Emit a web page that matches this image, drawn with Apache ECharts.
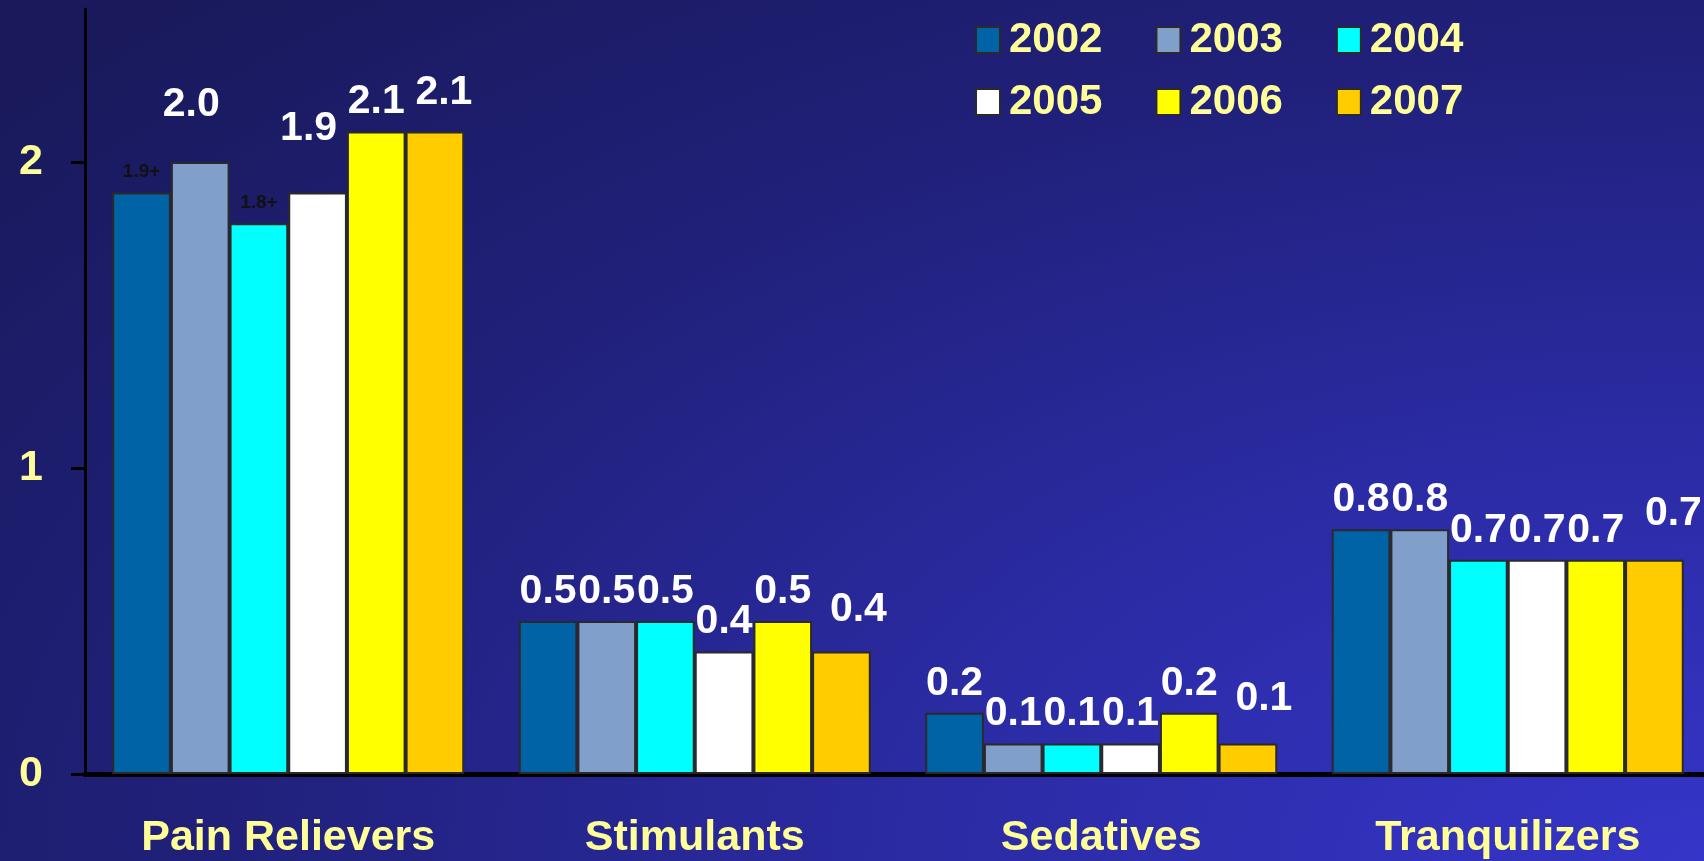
<!DOCTYPE html>
<html>
<head>
<meta charset="utf-8">
<script src="https://cdn.jsdelivr.net/npm/echarts@6/dist/echarts.min.js"></script>
<style>
  html, body { margin: 0; padding: 0; width: 1704px; height: 861px; overflow: hidden; }
  #chart {
    width: 1704px;
    height: 861px;
    background: radial-gradient(ellipse 130% 140% at 100% 100%, #3535c9 0%, #2b2ba4 35%, #20207a 68%, #19195b 100%);
  }
</style>
</head>
<body>
<div id="chart"></div>
<script>
// categories and years
const categories = ['Pain Relievers', 'Stimulants', 'Sedatives', 'Tranquilizers']
const years = ['2002', '2003', '2004', '2005', '2006', '2007']

// percent using in the past year, one array per year
const values2002 = [1.9, 0.5, 0.2, 0.8]
const values2003 = [2.0, 0.5, 0.1, 0.8]
const values2004 = [1.8, 0.5, 0.1, 0.7]
const values2005 = [1.9, 0.4, 0.1, 0.7]
const values2006 = [2.1, 0.5, 0.2, 0.7]
const values2007 = [2.1, 0.4, 0.1, 0.7]

const yTicks = [0, 1, 2]

// cells marked with "+" in the original
const plusMarked = [['Pain Relievers', '2002'], ['Pain Relievers', '2004']]

const seriesValues = [values2002, values2003, values2004, values2005, values2006, values2007]
const colors = ['#0063a6', '#809fcb', '#00ffff', '#ffffff', '#ffff00', '#ffcc00']

// label nudges, the source slide had hand placed labels
const labelNudge = {
  'Pain Relievers|2003': [-9, -28],
  'Pain Relievers|2005': [-9, -34],
  'Pain Relievers|2007': [9, -9],
  'Stimulants|2007': [17, -12],
  'Sedatives|2007': [16, -15],
  'Tranquilizers|2007': [19, -17]
}

const boldFont = '"Liberation Sans", Arial, sans-serif'

const isPlus = (cat, year) => plusMarked.some(p => p[0] === cat && p[1] === year)

const buildSeries = () => years.map((year, si) => ({
  name: year,
  type: 'bar',
  barGap: 0,
  barCategoryGap: '13.4%',
  itemStyle: { color: colors[si], borderColor: '#2a2a2a', borderWidth: 2 },
  label: {
    show: true,
    position: 'top',
    distance: 9,
    color: '#ffffff',
    fontFamily: boldFont,
    fontWeight: 'bold',
    fontSize: 41
  },
  data: seriesValues[si].map((v, ci) => {
    const cat = categories[ci]
    const item = { value: v }
    if (isPlus(cat, year)) {
      item.label = {
        formatter: v.toFixed(1) + '+',
        color: '#111111',
        fontSize: 19,
        distance: 11
      }
    } else {
      item.label = {
        formatter: v.toFixed(1),
        offset: labelNudge[cat + '|' + year] || [0, 0]
      }
    }
    return item
  })
}))

const legendStyle = {
  left: 970,
  icon: 'rect',
  itemWidth: 24,
  itemHeight: 26,
  itemGap: 53,
  textStyle: {
    color: '#ffff99',
    fontFamily: boldFont,
    fontWeight: 'bold',
    fontSize: 42,
    lineHeight: 44,
    padding: [0, 0, 0, 4]
  }
}

const chart = echarts.init(document.getElementById('chart'))
chart.setOption({
  backgroundColor: 'transparent',
  animation: false,
  legend: [
    Object.assign({}, legendStyle, { top: 13, data: years.slice(0, 3) }),
    Object.assign({}, legendStyle, { top: 75, data: years.slice(3) })
  ],
  grid: {
    left: 85,
    right: -7,
    top: 9,
    bottom: 87,
    outerBoundsMode: 'none'
  },
  xAxis: {
    type: 'category',
    data: categories,
    axisLine: { lineStyle: { color: '#000000', width: 5 } },
    axisTick: { show: false },
    axisLabel: {
      interval: 0,
      margin: 43,
      color: '#ffff99',
      fontFamily: boldFont,
      fontWeight: 'bold',
      fontSize: 43
    }
  },
  yAxis: {
    type: 'value',
    min: 0,
    max: 2.5,
    interval: 1,
    splitLine: { show: false },
    axisLine: { show: true, lineStyle: { color: '#000000', width: 3 } },
    axisTick: {
      show: true,
      length: 14,
      customValues: yTicks,
      lineStyle: { color: '#000000', width: 3 }
    },
    axisLabel: {
      margin: 42,
      customValues: yTicks,
      color: '#ffff99',
      fontFamily: boldFont,
      fontWeight: 'bold',
      fontSize: 43
    }
  },
  series: buildSeries()
})
</script>
</body>
</html>
